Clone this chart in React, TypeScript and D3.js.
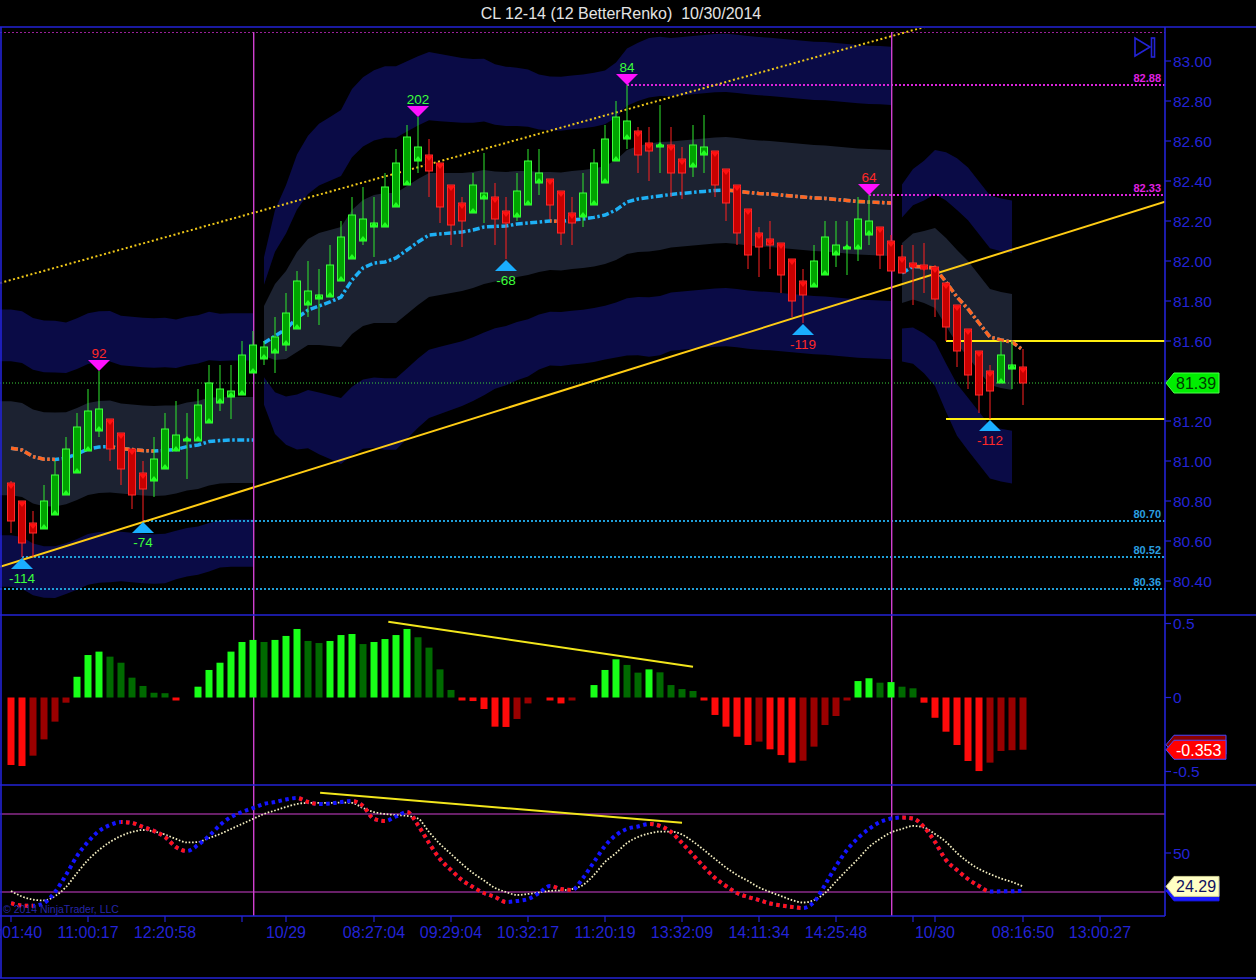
import React from "react";
import * as d3 from "d3";

// ---------- Renko bars: CL 12-14, 12 BetterRenko ----------
const barOpen = [
  80.89, 80.80, 80.69, 80.66, 80.73, 80.83, 80.94, 81.05, 81.15, 81.21,
  81.14, 81.06, 80.94, 80.90, 80.96, 81.05, 81.10, 81.10, 81.19, 81.29,
  81.32, 81.33, 81.44, 81.51, 81.54, 81.58, 81.66, 81.78, 81.81, 81.82,
  81.90, 82.01, 82.10, 82.17, 82.17, 82.27, 82.38, 82.50, 82.53, 82.49,
  82.38, 82.29, 82.24, 82.31, 82.32, 82.25, 82.22, 82.28, 82.39, 82.41,
  82.35, 82.24, 82.22, 82.28, 82.39, 82.50, 82.61, 82.65, 82.59, 82.57,
  82.58, 82.51, 82.47, 82.53, 82.55, 82.46, 82.38, 82.26, 82.14, 82.11,
  82.09, 82.01, 81.90, 81.87, 81.93, 82.03, 82.06, 82.06, 82.13, 82.17,
  82.10, 82.02, 81.99, 81.98, 81.97, 81.89, 81.78, 81.66, 81.55, 81.45,
  81.39, 81.46, 81.47,
];
const barHigh = [
  80.90, 80.80, 80.75, 80.88, 81.00, 81.12, 81.24, 81.36, 81.45, 81.21,
  81.14, 81.06, 81.00, 81.12, 81.24, 81.30, 81.24, 81.36, 81.48, 81.48,
  81.48, 81.60, 81.65, 81.60, 81.72, 81.84, 81.95, 82.00, 81.96, 82.08,
  82.20, 82.32, 82.37, 82.32, 82.44, 82.56, 82.68, 82.72, 82.61, 82.49,
  82.38, 82.32, 82.44, 82.54, 82.39, 82.32, 82.44, 82.56, 82.56, 82.41,
  82.35, 82.32, 82.44, 82.56, 82.68, 82.80, 82.88, 82.67, 82.67, 82.78,
  82.67, 82.57, 82.68, 82.73, 82.55, 82.46, 82.38, 82.26, 82.17, 82.20,
  82.09, 82.01, 81.96, 82.08, 82.20, 82.20, 82.20, 82.32, 82.33, 82.17,
  82.13, 82.08, 82.08, 82.09, 81.98, 81.89, 81.78, 81.66, 81.55, 81.48,
  81.60, 81.60, 81.56,
];
const barLow = [
  80.64, 80.52, 80.52, 80.66, 80.73, 80.83, 80.94, 81.05, 81.12, 81.00,
  80.88, 80.76, 80.70, 80.82, 80.96, 81.05, 80.91, 81.10, 81.19, 81.25,
  81.21, 81.33, 81.44, 81.48, 81.44, 81.55, 81.66, 81.72, 81.68, 81.82,
  81.90, 82.01, 82.08, 82.02, 82.17, 82.27, 82.38, 82.44, 82.32, 82.19,
  82.08, 82.07, 82.24, 82.19, 82.08, 82.01, 82.20, 82.28, 82.33, 82.21,
  82.08, 82.08, 82.17, 82.28, 82.39, 82.50, 82.56, 82.44, 82.40, 82.44,
  82.32, 82.31, 82.42, 82.44, 82.32, 82.20, 82.08, 81.96, 81.92, 81.96,
  81.84, 81.72, 81.69, 81.87, 81.93, 81.97, 81.93, 82.00, 82.08, 81.96,
  81.95, 81.94, 81.78, 81.84, 81.72, 81.60, 81.47, 81.36, 81.24, 81.21,
  81.39, 81.36, 81.28,
];
const barClose = [
  80.70, 80.59, 80.64, 80.80, 80.93, 81.06, 81.17, 81.25, 81.26, 81.06,
  80.96, 80.83, 80.86, 81.01, 81.16, 81.13, 81.11, 81.28, 81.39, 81.36,
  81.35, 81.53, 81.58, 81.57, 81.62, 81.74, 81.90, 81.85, 81.83, 81.98,
  82.12, 82.23, 82.21, 82.19, 82.37, 82.49, 82.62, 82.57, 82.45, 82.27,
  82.18, 82.20, 82.38, 82.34, 82.21, 82.19, 82.35, 82.50, 82.44, 82.28,
  82.14, 82.19, 82.34, 82.49, 82.61, 82.72, 82.70, 82.53, 82.55, 82.58,
  82.44, 82.44, 82.58, 82.57, 82.38, 82.29, 82.14, 82.03, 82.07, 82.08,
  81.93, 81.80, 81.83, 82.00, 82.12, 82.08, 82.07, 82.21, 82.20, 82.03,
  81.95, 81.94, 81.97, 81.96, 81.81, 81.67, 81.55, 81.43, 81.33, 81.35,
  81.53, 81.48, 81.39,
];

// first / last bar of each trading session
const sessions = [[0, 22], [23, 80], [81, 92]];
const sessionBreaks = [22, 80];

// session moving average (dash-dot line)
const maLine = [
  81.064, 81.055, 81.022, 81.009, 81.008, 81.014, 81.035, 81.060, 81.070, 81.072,
  81.062, 81.057, 81.052, 81.050, 81.053, 81.058, 81.072, 81.080, 81.097, 81.102,
  81.105, 81.105, 81.105, 81.590, 81.625, 81.660, 81.715, 81.755, 81.775, 81.795,
  81.820, 81.905, 81.965, 81.990, 81.995, 82.015, 82.055, 82.095, 82.130, 82.135,
  82.140, 82.145, 82.155, 82.170, 82.173, 82.175, 82.185, 82.190, 82.195, 82.200,
  82.198, 82.205, 82.210, 82.218, 82.230, 82.255, 82.295, 82.310, 82.318, 82.325,
  82.333, 82.338, 82.343, 82.348, 82.353, 82.355, 82.350, 82.343, 82.338, 82.335,
  82.330, 82.325, 82.320, 82.315, 82.313, 82.308, 82.303, 82.298, 82.295, 82.293,
  82.290, 81.940, 81.973, 81.970, 81.965, 81.895, 81.820, 81.760, 81.690, 81.620,
  81.605, 81.595, 81.555,
];

// envelope centre and unit width (price)
const bandMid = [
  81.064, 81.055, 81.022, 81.009, 81.008, 81.014, 81.035, 81.060, 81.070, 81.072,
  81.062, 81.057, 81.052, 81.050, 81.053, 81.058, 81.072, 81.080, 81.097, 81.102,
  81.105, 81.105, 81.105, 81.650, 81.695, 81.730, 81.795, 81.845, 81.860, 81.865,
  81.870, 81.945, 81.990, 82.010, 82.015, 82.015, 82.055, 82.095, 82.130, 82.135,
  82.140, 82.145, 82.155, 82.170, 82.173, 82.175, 82.185, 82.190, 82.195, 82.200,
  82.198, 82.205, 82.210, 82.218, 82.230, 82.255, 82.295, 82.310, 82.318, 82.325,
  82.333, 82.338, 82.343, 82.348, 82.353, 82.355, 82.350, 82.343, 82.338, 82.335,
  82.330, 82.325, 82.320, 82.315, 82.313, 82.308, 82.303, 82.298, 82.295, 82.293,
  82.290, 81.940, 81.973, 81.970, 81.965, 81.895, 81.820, 81.760, 81.690, 81.620,
  81.605, 81.595, 81.555,
];
const bandWidth: (number | null)[] = [
  0.235, 0.235, 0.235, 0.235, 0.235, 0.23, 0.23, 0.23, 0.23, 0.23,
  0.225, 0.225, 0.225, 0.225, 0.225, 0.22, 0.22, 0.22, 0.22, 0.215,
  0.215, 0.215, 0.215, 0.125, 0.19, 0.22, 0.25, 0.265, 0.28, 0.29,
  0.30, 0.31, 0.315, 0.32, 0.325, 0.325, 0.32, 0.315, 0.31, 0.305,
  0.30, 0.295, 0.29, 0.285, 0.275, 0.27, 0.265, 0.26, 0.25, 0.245,
  0.245, 0.245, 0.245, 0.245, 0.245, 0.25, 0.26, 0.265, 0.27, 0.27,
  0.265, 0.265, 0.265, 0.265, 0.265, 0.265, 0.265, 0.265, 0.265, 0.265,
  0.265, 0.265, 0.265, 0.265, 0.265, 0.265, 0.265, 0.265, 0.265, 0.265,
  0.265, 0.15, 0.165, 0.18, 0.20, 0.22, 0.235, 0.24, 0.24, 0.24,
  0.24, 0.24, null,
];

// momentum histogram
const histValues = [
  -0.456, -0.463, -0.393, -0.283, -0.163, -0.035, 0.14, 0.287, 0.31, 0.276,
  0.235, 0.134, 0.078, 0.032, 0.029, -0.02, 0, 0.073, 0.186, 0.235,
  0.31, 0.375, 0.389, 0.375, 0.389, 0.416, 0.463, 0.382, 0.368, 0.382,
  0.422, 0.429, 0.361, 0.375, 0.395, 0.422, 0.463, 0.407, 0.337, 0.19,
  0.051, -0.01, -0.024, -0.078, -0.197, -0.199, -0.145, -0.04, 0, -0.008,
  -0.04, -0.02, 0, 0.084, 0.186, 0.258, 0.22, 0.168, 0.19, 0.17,
  0.084, 0.057, 0.044, -0.02, -0.118, -0.197, -0.265, -0.321, -0.298, -0.35,
  -0.389, -0.44, -0.427, -0.332, -0.186, -0.125, -0.012, 0.111, 0.13, 0.10,
  0.104, 0.073, 0.062, -0.035, -0.137, -0.231, -0.321, -0.429, -0.497, -0.44,
  -0.361, -0.356, -0.353,
];

// stochastic-style oscillator
const oscMain = [
  11.5, 9.6, 9.4, 11.5, 20, 33.1, 47.7, 58.5, 66.9, 71.5,
  73.8, 73.1, 70, 66.9, 62.3, 54.6, 51.5, 56.2, 63.1, 71.5,
  77.7, 81.5, 84.6, 87.7, 89.2, 91.2, 92.3, 89.2, 87.7, 88.1,
  89.2, 90, 86.2, 76.2, 74.6, 78.1, 81.5, 71.5, 57.7, 45.4,
  36.9, 29.2, 23.8, 19.2, 16.2, 12.3, 13.1, 14.6, 19.2, 24.6,
  22.3, 21.5, 30.8, 43.1, 55.4, 63.8, 68.5, 70.4, 72.3, 70.8,
  66.2, 57.7, 48.5, 39.2, 30.8, 24.6, 19.2, 16.2, 13.8, 11.2,
  9.6, 8.5, 7.7, 12.3, 25.4, 40, 52.3, 61.5, 68.5, 73.8,
  76.5, 77.3, 76.5, 70, 58.5, 44.6, 36.9, 30, 24.6, 20.3,
  20.5, 20.6, 20.9,
];
const oscSignal = [
  20.8, 16.5, 14.2, 13.5, 16.9, 23.8, 34.6, 44.6, 52.3, 58.5,
  63.1, 66.2, 67.7, 66.5, 64.2, 60.8, 58.1, 58.5, 61.5, 64.6,
  68.5, 72.3, 76.2, 80, 82.7, 85.4, 87.7, 88.5, 88.5, 88.5,
  88.8, 88.5, 84.6, 81.5, 80, 79.2, 78.5, 76.5, 66.2, 56.9,
  49.2, 41.5, 34.6, 28.8, 23.1, 20, 17.7, 18.5, 19.6, 20.8,
  21.2, 22.3, 25.4, 33.1, 43.1, 50, 57.7, 62.3, 65, 66.5,
  66.5, 64.2, 58.8, 52.3, 45.4, 38.8, 33.1, 28.5, 23.5, 20,
  16.9, 13.8, 11.9, 13.8, 19.2, 28.1, 36.9, 45.4, 54.6, 60.8,
  65.8, 68.5, 70.8, 69.6, 64.6, 58.5, 50, 43.1, 37.7, 33.8,
  30.4, 27.7, 24.29,
];

// swing points with bar counts
const swingHighs = [
  { bar: 8, count: 92, up: false },
  { bar: 37, count: 202, up: true },
  { bar: 56, count: 84, up: true },
  { bar: 78, count: 64, up: false },
];
const swingLows = [
  { bar: 1, count: -114, up: true },
  { bar: 12, count: -74, up: true },
  { bar: 45, count: -68, up: true },
  { bar: 72, count: -119, up: false },
  { bar: 89, count: -112, up: false },
];

// support / resistance levels
const levels = [
  { price: 82.88, fromBar: 56, kind: "high" },
  { price: 82.33, fromBar: 78, kind: "high" },
  { price: 80.70, fromBar: 12, kind: "low" },
  { price: 80.52, fromBar: 1, kind: "low" },
  { price: 80.36, fromBar: -1, kind: "low" },
];

// drawn trend lines: two anchors [bar, price], extended across the panel
const trendLines = [
  { a: [1, 80.505], b: [72, 81.729], dotted: false },
  { a: [8, 82.027], b: [56, 82.758], dotted: true },
];
const rangeLines = [
  { fromBar: 85, price: 81.60 },
  { fromBar: 85, price: 81.21 },
];
const histDivergence = [[34.3, 0.512], [62, 0.208]];
const oscDivergence = [[28.1, 96.4], [61, 73.3]];

const lastPrice = 81.39;
const priceTicks = [80.4, 80.6, 80.8, 81.0, 81.2, 81.4, 81.6, 81.8, 82.0, 82.2, 82.4, 82.6, 82.8, 83.0];
const histTicks = [0.5, 0, -0.5];
const oscTicks = [50];
const oscGuides = [80, 20];
const timeTicks = [
  { bar: 0, label: "10:01:40" },
  { bar: 7, label: "11:00:17" },
  { bar: 14, label: "12:20:58" },
  { bar: 21, label: "" },
  { bar: 25, label: "10/29" },
  { bar: 33, label: "08:27:04" },
  { bar: 40, label: "09:29:04" },
  { bar: 47, label: "10:32:17" },
  { bar: 54, label: "11:20:19" },
  { bar: 61, label: "13:32:09" },
  { bar: 68, label: "14:11:34" },
  { bar: 75, label: "14:25:48" },
  { bar: 82, label: "" },
  { bar: 84, label: "10/30" },
  { bar: 92, label: "08:16:50" },
  { bar: 99, label: "13:00:27" },
];
const title = "CL 12-14 (12 BetterRenko)  10/30/2014";

// ---------- look ----------
const FONT = "Arial, 'Liberation Sans', sans-serif";
const BLUE = "#2323d6";
const NAVY = "#0a0b46";
const SLATE = "#1c2231";
const CYAN = "#1eb0f5";
const ORANGE = "#ff6420";
const SESSION_LINE = "#d040d0";
const W = 1256;
const H = 980;
const AXIS_X = 1165;
const PRICE_TOP = 28;
const PRICE_BOTTOM = 615;
const HIST_BOTTOM = 785;
const OSC_BOTTOM = 916;

function sessionOf(i: number) {
  return sessions.findIndex(([s, e]) => i >= s && i <= e);
}

function tagPath(x0: number, y: number, w: number, h: number) {
  return `M${x0},${y} L${x0 + 8},${y - h / 2} L${x0 + w},${y - h / 2} L${x0 + w},${y + h / 2} L${x0 + 8},${y + h / 2} Z`;
}

export default function App() {
  const n = barOpen.length;
  const x = d3.scaleLinear().domain([0, n - 1]).range([11, 1023]);
  const yP = d3.scaleLinear().domain([80.23, 83.165]).range([PRICE_BOTTOM, PRICE_TOP]);
  const yH = d3.scaleLinear().domain([-0.5, 0.5]).range([771.5, 623.5]);
  const yO = d3.scaleLinear().domain([0, 100]).range([918, 788]);

  const at = (arr: (number | null)[], i: number) => arr[Math.max(0, i)] as number;

  // envelope layers: [inner k, outer k]
  const bandLayers = [
    { kIn: 1.85, kOut: 2.95, fill: NAVY },
    { kIn: -1.85, kOut: -2.95, fill: NAVY },
    { kIn: 1, kOut: -1, fill: SLATE },
  ];
  const bandPaths: { d: string; fill: string }[] = [];
  sessions.forEach(([s, e], si) => {
    const idx = d3.range(si === 0 ? s - 1 : s, e + 1).filter((i) => at(bandWidth, i) != null);
    bandLayers.forEach((L) => {
      const area = d3
        .area<number>()
        .x((i) => x(i))
        .y0((i) => yP(at(bandMid, i) + L.kIn * at(bandWidth, i)))
        .y1((i) => yP(at(bandMid, i) + L.kOut * at(bandWidth, i)));
      bandPaths.push({ d: area(idx) || "", fill: L.fill });
    });
  });

  // moving average per session
  const maLineGen = d3.line<number>().x((i) => x(i)).y((i) => yP(maLine[i]));
  const maPaths = sessions.map(([s, e]) => maLineGen(d3.range(s, e + 1)) || "");
  const maFalling = d3.range(1, n).filter((i) => sessionOf(i) === sessionOf(i - 1) && maLine[i] < maLine[i - 1]);

  // oscillator
  const idxAll = d3.range(n);
  const oscMainPath =
    d3.line<number>().x((i) => x(i)).y((i) => yO(oscMain[i])).curve(d3.curveMonotoneX)(idxAll) || "";
  const oscSignalPath =
    d3.line<number>().x((i) => x(i)).y((i) => yO(oscSignal[i])).curve(d3.curveMonotoneX)(idxAll) || "";
  const oscFalling = d3.range(1, n).filter((i) => oscMain[i] < oscMain[i - 1]);

  // histogram colour: bright while growing away from zero, dark while shrinking
  const histColor = (i: number) => {
    const v = histValues[i];
    const p = i > 0 ? histValues[i - 1] : 0;
    const growing = Math.sign(v) !== Math.sign(p) || Math.abs(v) >= Math.abs(p);
    if (v >= 0) return growing ? "#18ff18" : "#006a00";
    return growing ? "#ff0a0a" : "#9a0000";
  };

  // extend a two-anchor line across [0, AXIS_X]
  const extend = (a: number[], b: number[]) => {
    const x1 = x(a[0]), y1 = yP(a[1]), x2 = x(b[0]), y2 = yP(b[1]);
    const m = (y2 - y1) / (x2 - x1);
    return { x1: 0, y1: y1 - m * x1, x2: AXIS_X, y2: y1 + m * (AXIS_X - x1) };
  };

  const lastHist = histValues[n - 1];
  const lastSignal = oscSignal[n - 1];
  const lastMain = oscMain[n - 1];

  // axis labels hidden under the last-price tag
  const visiblePriceTicks = priceTicks.filter((p) => Math.abs(yP(p) - yP(lastPrice)) > 11);

  return (
    <svg
      width={W}
      height={H}
      style={{ position: "absolute", left: 0, top: 0, display: "block", background: "#000" }}
      fontFamily={FONT}
    >
      <defs>
        <clipPath id="pricePanel">
          <rect x={0} y={PRICE_TOP} width={AXIS_X} height={PRICE_BOTTOM - PRICE_TOP} />
        </clipPath>
        <clipPath id="histPanel">
          <rect x={0} y={PRICE_BOTTOM} width={AXIS_X} height={HIST_BOTTOM - PRICE_BOTTOM} />
        </clipPath>
        <clipPath id="oscPanel">
          <rect x={0} y={HIST_BOTTOM} width={AXIS_X} height={OSC_BOTTOM - HIST_BOTTOM} />
        </clipPath>
        <clipPath id="maDown">
          {maFalling.map((i) => (
            <rect key={i} x={x(i - 1)} y={0} width={x(i) - x(i - 1)} height={H} />
          ))}
        </clipPath>
        <clipPath id="oscDown">
          {oscFalling.map((i) => (
            <rect key={i} x={x(i - 1)} y={0} width={x(i) - x(i - 1)} height={H} />
          ))}
        </clipPath>
      </defs>

      <rect x={0} y={0} width={W} height={H} fill="#000" />

      {/* title */}
      <text x={621} y={19} textAnchor="middle" fontSize={16} fill="#e4e4e4" style={{ whiteSpace: "pre" }}>
        {title}
      </text>

      {/* ---------- price panel ---------- */}
      <g clipPath="url(#pricePanel)">
        {bandPaths.map((b, k) => (
          <path key={k} d={b.d} fill={b.fill} />
        ))}

        <line x1={0} x2={AXIS_X} y1={PRICE_TOP + 4.5} y2={PRICE_TOP + 4.5} stroke="#9a1f9a" strokeWidth={1} strokeDasharray="2 2" />

        {levels.map((l, k) => (
          <g key={k}>
            <line
              x1={Math.max(0, x(l.fromBar))}
              x2={AXIS_X}
              y1={yP(l.price)}
              y2={yP(l.price)}
              stroke={l.kind === "high" ? "#dd22dd" : "#1f9fd8"}
              strokeWidth={2}
              strokeDasharray="2 2"
            />
            <text
              x={AXIS_X - 4}
              y={yP(l.price) - 3}
              textAnchor="end"
              fontSize={11}
              fontWeight="bold"
              fill={l.kind === "high" ? "#e020e0" : "#2a9fe0"}
            >
              {l.price.toFixed(2)}
            </text>
          </g>
        ))}

        {/* last price line */}
        <line x1={0} x2={AXIS_X} y1={yP(lastPrice)} y2={yP(lastPrice)} stroke="#3ad23a" strokeWidth={1} strokeDasharray="1 2" />

        {trendLines.map((t, k) => {
          const L = extend(t.a, t.b);
          return (
            <line
              key={k}
              {...L}
              stroke={t.dotted ? "#f0c818" : "#ffcc14"}
              strokeWidth={2}
              strokeDasharray={t.dotted ? "2 2.5" : undefined}
            />
          );
        })}
        {rangeLines.map((r, k) => (
          <line key={k} x1={x(r.fromBar)} x2={AXIS_X} y1={yP(r.price)} y2={yP(r.price)} stroke="#ffee10" strokeWidth={2} />
        ))}
      </g>

      {/* session breaks */}
      {sessionBreaks.map((b) => (
        <rect key={b} x={Math.round(x(b))} y={PRICE_TOP + 4} width={1.4} height={OSC_BOTTOM - PRICE_TOP - 4} fill={SESSION_LINE} />
      ))}

      <g clipPath="url(#pricePanel)">
        {/* moving average: cyan rising, orange falling */}
        {maPaths.map((d, k) => (
          <path key={"c" + k} d={d} fill="none" stroke={CYAN} strokeWidth={3.5} strokeDasharray="7 2.5 2.5 2.5" />
        ))}
        <g clipPath="url(#maDown)">
          {maPaths.map((d, k) => (
            <path key={"o" + k} d={d} fill="none" stroke={ORANGE} strokeWidth={3.5} strokeDasharray="7 2.5 2.5 2.5" />
          ))}
        </g>

        {/* candles */}
        {idxAll.map((i) => {
          const o = barOpen[i], c = barClose[i];
          const up = c >= o;
          const cx = x(i);
          const top = yP(Math.max(o, c));
          const bot = yP(Math.min(o, c));
          const wick = up ? "#2ee82e" : "#ff2020";
          const yo = yP(o);
          return (
            <g key={i}>
              <line x1={cx} x2={cx} y1={yP(barHigh[i])} y2={yP(barLow[i])} stroke={wick} strokeWidth={1} />
              <rect
                x={cx - 3.5}
                y={top}
                width={7}
                height={Math.max(1.5, bot - top)}
                fill={up ? "#00a400" : "#c80000"}
                stroke={up ? "#3cff3c" : "#ff2a2a"}
                strokeWidth={1}
              />
              <polygon
                points={
                  up
                    ? `${cx - 4},${yo} ${cx + 4},${yo} ${cx},${yo - 5}`
                    : `${cx - 4},${yo + 1} ${cx + 4},${yo + 1} ${cx},${yo + 6}`
                }
                fill={up ? "#22ff22" : "#ff1010"}
              />
            </g>
          );
        })}

        {/* swing markers */}
        {swingHighs.map((s) => {
          const cx = x(s.bar);
          const ty = yP(barHigh[s.bar]);
          return (
            <g key={"h" + s.bar}>
              <polygon points={`${cx - 11},${ty - 11} ${cx + 11},${ty - 11} ${cx},${ty}`} fill="#ff10ff" />
              <text x={cx} y={ty - 13} textAnchor="middle" fontSize={13.5} fill={s.up ? "#3cff3c" : "#ff2828"}>
                {s.count}
              </text>
            </g>
          );
        })}
        {swingLows.map((s) => {
          const cx = x(s.bar);
          const ty = yP(barLow[s.bar]) + 1;
          return (
            <g key={"l" + s.bar}>
              <polygon points={`${cx - 11},${ty + 11} ${cx + 11},${ty + 11} ${cx},${ty}`} fill="#1aaeff" />
              <text x={cx} y={ty + 25} textAnchor="middle" fontSize={13.5} fill={s.up ? "#3cff3c" : "#ff2828"}>
                {s.count}
              </text>
            </g>
          );
        })}
      </g>

      {/* chart-trader marker */}
      <g fill="none" stroke={BLUE} strokeWidth={1.6}>
        <path d="M1135,38 L1150,47 L1135,56 Z" />
        <rect x={1151.5} y={38} width={3} height={19} />
      </g>

      {/* ---------- histogram panel ---------- */}
      <g clipPath="url(#histPanel)">
        {idxAll
          .filter((i) => histValues[i] !== 0)
          .map((i) => {
            const v = histValues[i];
            const y0 = yH(0);
            const y1 = yH(v);
            const top = Math.min(y0, y1);
            const h = Math.max(3, Math.abs(y1 - y0));
            return <rect key={i} x={x(i) - 3.5} y={top} width={7} height={h} fill={histColor(i)} />;
          })}
        <line
          x1={x(histDivergence[0][0])}
          y1={yH(histDivergence[0][1])}
          x2={x(histDivergence[1][0])}
          y2={yH(histDivergence[1][1])}
          stroke="#f2e61c"
          strokeWidth={2}
        />
      </g>

      {/* ---------- oscillator panel ---------- */}
      <g clipPath="url(#oscPanel)">
        {oscGuides.map((g) => (
          <line key={g} x1={0} x2={AXIS_X} y1={yO(g)} y2={yO(g)} stroke={SESSION_LINE} strokeWidth={1} />
        ))}
        <line
          x1={x(oscDivergence[0][0])}
          y1={yO(oscDivergence[0][1])}
          x2={x(oscDivergence[1][0])}
          y2={yO(oscDivergence[1][1])}
          stroke="#f2e61c"
          strokeWidth={2}
        />
        <path d={oscSignalPath} fill="none" stroke="#f3edc0" strokeWidth={1.8} strokeDasharray="1.6 1.8" />
        <path d={oscMainPath} fill="none" stroke="#1414ff" strokeWidth={4} strokeDasharray="3.5 3.5" />
        <g clipPath="url(#oscDown)">
          <path d={oscMainPath} fill="none" stroke="#ff1414" strokeWidth={4} strokeDasharray="3.5 3.5" />
        </g>
        <text x={3} y={913} fontSize={10.5} fill="#2626a8">
          © 2014 NinjaTrader, LLC
        </text>
      </g>

      {/* ---------- frame ---------- */}
      <g stroke={BLUE} strokeWidth={1.6}>
        <line x1={0} x2={W} y1={27} y2={27} />
        <line x1={1} x2={1} y1={27} y2={978} />
        <line x1={AXIS_X} x2={AXIS_X} y1={27} y2={OSC_BOTTOM} />
        <line x1={0} x2={W} y1={PRICE_BOTTOM} y2={PRICE_BOTTOM} />
        <line x1={0} x2={W} y1={HIST_BOTTOM} y2={HIST_BOTTOM} />
        <line x1={0} x2={AXIS_X} y1={OSC_BOTTOM} y2={OSC_BOTTOM} />
        <line x1={0} x2={W} y1={978} y2={978} />
      </g>

      {/* right axes */}
      <g fill={BLUE} fontSize={15.5}>
        {priceTicks.map((p) => (
          <line key={"t" + p} x1={AXIS_X} x2={AXIS_X + 6} y1={yP(p)} y2={yP(p)} stroke={BLUE} strokeWidth={1.2} />
        ))}
        {visiblePriceTicks.map((p) => (
          <text key={p} x={AXIS_X + 8} y={yP(p)} dy="0.36em">
            {p.toFixed(2)}
          </text>
        ))}
        {histTicks.map((v) => (
          <g key={v}>
            <line x1={AXIS_X} x2={AXIS_X + 6} y1={yH(v)} y2={yH(v)} stroke={BLUE} strokeWidth={1.2} />
            <text x={AXIS_X + 8} y={yH(v)} dy="0.36em">
              {String(v)}
            </text>
          </g>
        ))}
        {oscTicks.map((v) => (
          <g key={v}>
            <line x1={AXIS_X} x2={AXIS_X + 6} y1={yO(v)} y2={yO(v)} stroke={BLUE} strokeWidth={1.2} />
            <text x={AXIS_X + 8} y={yO(v)} dy="0.36em">
              {String(v)}
            </text>
          </g>
        ))}
      </g>

      {/* time axis */}
      <g fill={BLUE} fontSize={16}>
        {timeTicks.map((t) => (
          <g key={t.bar}>
            <line x1={x(t.bar)} x2={x(t.bar)} y1={OSC_BOTTOM} y2={OSC_BOTTOM + 6} stroke={BLUE} strokeWidth={1.2} />
            {t.label && (
              <text x={x(t.bar)} y={938} textAnchor="middle">
                {t.label}
              </text>
            )}
          </g>
        ))}
      </g>

      {/* value tags */}
      <path d={tagPath(AXIS_X + 1, yP(lastPrice), 53, 20)} fill="#00ee00" stroke="#4cff4c" strokeWidth={1} />
      <text x={AXIS_X + 11} y={yP(lastPrice)} dy="0.36em" fontSize={16} fill="#003a00">
        {lastPrice.toFixed(2)}
      </text>

      <path d={tagPath(AXIS_X + 1, yH(lastHist) - 5, 60, 19)} fill="#8a0000" stroke="#4848ff" strokeWidth={1} />
      <path d={tagPath(AXIS_X + 1, yH(lastHist), 60, 19)} fill="#ff0000" stroke="#4848ff" strokeWidth={1} />
      <text x={AXIS_X + 11} y={yH(lastHist)} dy="0.36em" fontSize={16} fill="#ffffff">
        {lastHist.toFixed(3)}
      </text>

      <path d={tagPath(AXIS_X + 1, yO(lastMain), 53, 20)} fill="#1a1aff" stroke="#1a1aff" strokeWidth={1} />
      <path d={tagPath(AXIS_X + 1, yO(lastSignal), 53, 20)} fill="#ffffc4" stroke="#c8c890" strokeWidth={1} />
      <text x={AXIS_X + 11} y={yO(lastSignal)} dy="0.36em" fontSize={16} fill="#101060">
        {lastSignal.toFixed(2)}
      </text>
    </svg>
  );
}
